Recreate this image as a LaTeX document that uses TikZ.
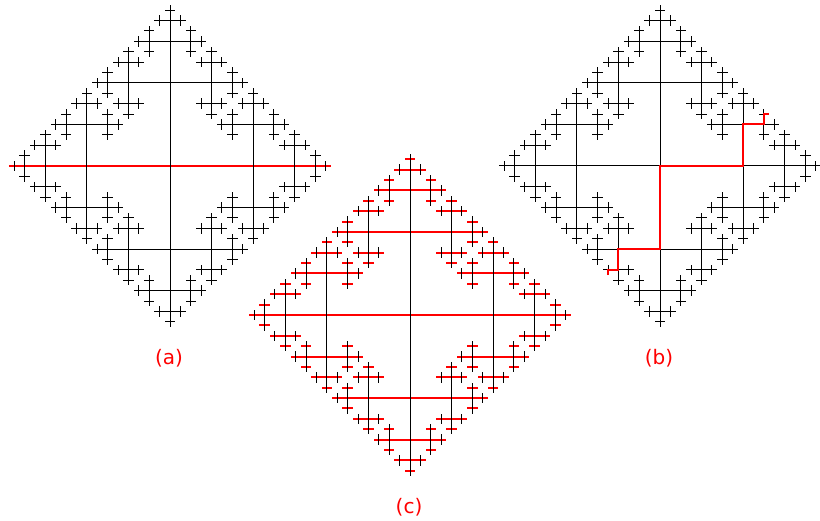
\documentclass[tikz,border=0pt]{standalone}
\usepackage{fontspec}
\newfontfamily\labfont{DejaVu Sans}
\newif\ifhpass
\makeatletter
\def\tbranch#1#2#3#4#5{%
  \begingroup
  \pgfmathsetmacro\nx{#1+(#3)*(#5)}%
  \pgfmathsetmacro\ny{#2+(#4)*(#5)}%
  \ifhpass
    \ifdim #4pt=0pt \draw[hedge] (#1,#2) -- (\nx,\ny);\fi
  \else
    \ifdim #4pt=0pt \else \draw[vedge] (#1,#2) -- (\nx,\ny);\fi
  \fi
  \ifdim #5pt>1.5pt
    \pgfmathsetmacro\nl{#5/2}%
    \pgfmathsetmacro\pa{-(#4)}%
    \pgfmathsetmacro\pb{-(#3)}%
    \edef\next{%
      \noexpand\tbranch{\nx}{\ny}{#3}{#4}{\nl}%
      \noexpand\tbranch{\nx}{\ny}{\pa}{#3}{\nl}%
      \noexpand\tbranch{\nx}{\ny}{#4}{\pb}{\nl}}%
    \next
  \fi
  \endgroup}
\def\ttreepass{%
  \tbranch{0}{0}{1}{0}{16}\tbranch{0}{0}{-1}{0}{16}%
  \tbranch{0}{0}{0}{1}{16}\tbranch{0}{0}{0}{-1}{16}}
\makeatother
\begin{document}
\begin{tikzpicture}[x=1pt,y=1pt,
  blackedge/.style={draw=black,line width=1pt},
  rededge/.style={draw=red,line width=2pt},
  lab/.style={text=red,font=\labfont\fontsize{20}{22}\selectfont,inner sep=0pt}]
\useasboundingbox (0,0) rectangle (820,520);
% (a)
\begin{scope}[shift={(170pt,354pt)},x=5.194pt,y=5.194pt,
  hedge/.style={blackedge},vedge/.style={blackedge}]
  \hpasstrue\ttreepass
  \coordinate (aL) at (-31,0);
  \coordinate (aR) at (31,0);
  \draw[rededge] (aL) -- (aR);
  \hpassfalse\ttreepass
\end{scope}
% (b)
\begin{scope}[shift={(660pt,354pt)},x=5.194pt,y=5.194pt,
  hedge/.style={blackedge},vedge/.style={blackedge}]
  \hpasstrue\ttreepass
  \hpassfalse\ttreepass
  \coordinate (bS) at (-10,-21);
  \coordinate (bE) at (21,10);
  \draw[rededge] (bS) -- (-10,-20) -- (-8,-20) -- (-8,-16) -- (0,-16) -- (0,0)
     -- (16,0) -- (16,8) -- (20,8) -- (20,10) -- (bE);
\end{scope}
% (c)
\begin{scope}[shift={(410pt,205pt)},x=5.194pt,y=5.194pt,
  hedge/.style={rededge},vedge/.style={blackedge}]
  \hpasstrue\ttreepass
  \hpassfalse\ttreepass
\end{scope}
\node[lab] (la) at (169,162) {(a)};
\node[lab] (lb) at (659,162) {(b)};
\node[lab] (lc) at (409,13) {(c)};
\end{tikzpicture}
\end{document}
